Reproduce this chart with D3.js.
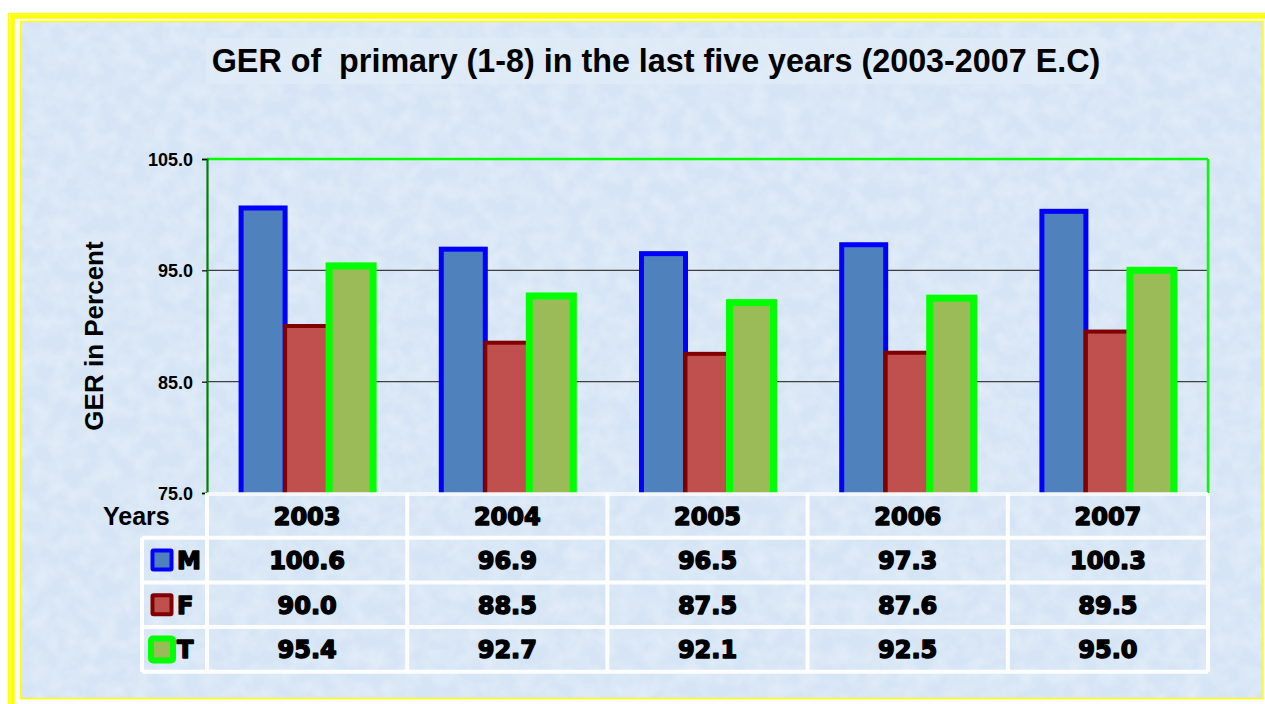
<!DOCTYPE html>
<html>
<head>
<meta charset="utf-8">
<script src="https://cdn.jsdelivr.net/npm/d3@7/dist/d3.min.js"></script>
<style>
  html, body { margin: 0; padding: 0; background: #ffffff; }
  svg { display: block; }
</style>
</head>
<body>
<svg id="chart" width="1265" height="704"></svg>
<script>
// ---- data ----
const years = ["2003", "2004", "2005", "2006", "2007"];
const seriesNames = ["M", "F", "T"];
const valuesM = [100.6, 96.9, 96.5, 97.3, 100.3];
const valuesF = [90.0, 88.5, 87.5, 87.6, 89.5];
const valuesT = [95.4, 92.7, 92.1, 92.5, 95.0];
const yTicks = [75, 85, 95, 105];
const titleText = "GER of  primary (1-8) in the last five years (2003-2007 E.C)";
const yTitle = "GER in Percent";
const xTitle = "Years";

// ---- styles ----
const fills = { M: "#4f81bd", F: "#c0504d", T: "#9bbb59" };
const strokes = { M: "#0000ff", F: "#800000", T: "#00ff00" };
const strokeW = { M: 5, F: 4, T: 7 };
const seriesValues = { M: valuesM, F: valuesF, T: valuesT };

const svg = d3.select("#chart");
const defs = svg.append("defs");
const filt = defs.append("filter").attr("id", "tex").attr("x", 0).attr("y", 0).attr("width", 1).attr("height", 1);
filt.append("feTurbulence").attr("type", "fractalNoise").attr("baseFrequency", 0.06).attr("numOctaves", 3).attr("seed", 7).attr("result", "n");
filt.append("feColorMatrix").attr("in", "n").attr("type", "matrix")
  .attr("values", "0 0 0 0 1  0 0 0 0 1  0 0 0 0 1  1.4 0 0 0 -0.5");

const plotL = 207, plotR = 1208, plotT = 159, plotB = 493;
defs.append("clipPath").attr("id", "plotClip").append("rect")
  .attr("x", plotL - 10).attr("y", plotT - 20).attr("width", plotR - plotL + 20).attr("height", plotB - plotT + 20);

// ---- background & frame ----
svg.append("rect").attr("x", 21).attr("y", 22).attr("width", 1242).attr("height", 676).attr("fill", "#d6e5f5");
svg.append("rect").attr("x", 21).attr("y", 22).attr("width", 1242).attr("height", 676).attr("filter", "url(#tex)").attr("opacity", 0.4);
svg.append("rect").attr("x", 8.5).attr("y", 13.5).attr("width", 1300).attr("height", 720).attr("fill", "none").attr("stroke", "#ffff00").attr("stroke-width", 1.2);
svg.append("rect").attr("x", 12.5).attr("y", 16.5).attr("width", 1300).attr("height", 720).attr("fill", "none").attr("stroke", "#ffff00").attr("stroke-width", 4.5);
svg.append("rect").attr("x", 20.5).attr("y", 21.5).attr("width", 1242.5).attr("height", 677).attr("fill", "none").attr("stroke", "#ffff00").attr("stroke-width", 1.5);

// ---- title ----
svg.append("rect").attr("x", 206).attr("y", 38).attr("width", 900).attr("height", 46).attr("fill", "#e2edf9").attr("opacity", 0.6);
svg.append("text").attr("x", 656).attr("y", 72).attr("text-anchor", "middle")
  .attr("xml:space", "preserve").style("white-space", "pre")
  .attr("font-family", "'Liberation Sans', Arial, sans-serif").attr("font-weight", "bold").attr("font-size", 32.3)
  .attr("fill", "#000").text(titleText);

// ---- scales ----
const x = d3.scaleBand().domain(years).range([plotL, plotR]).paddingInner(0).paddingOuter(0);
const xs = d3.scaleBand().domain(seriesNames).range([-66, 66]);
const y = d3.scaleLinear().domain([75, 105]).range([plotB, plotT]);

// gridlines
svg.append("g").selectAll("line").data(yTicks.filter(t => t > 75 && t < 105)).join("line")
  .attr("x1", plotL).attr("x2", plotR).attr("y1", d => y(d)).attr("y2", d => y(d))
  .attr("stroke", "#404040").attr("stroke-width", 1.2);

// bars
const barsG = svg.append("g").attr("clip-path", "url(#plotClip)");
seriesNames.forEach(s => {
  barsG.append("g").selectAll("rect").data(years.map((yr, i) => ({ yr, v: seriesValues[s][i] }))).join("rect")
    .attr("x", d => x(d.yr) + x.bandwidth() / 2 + xs(s))
    .attr("width", xs.bandwidth())
    .attr("y", d => y(d.v))
    .attr("height", d => plotB + 8 - y(d.v))
    .attr("fill", fills[s]).attr("stroke", strokes[s]).attr("stroke-width", strokeW[s]);
});

// plot frame (top/right bright green, left darker)
svg.append("line").attr("x1", plotL).attr("x2", plotR).attr("y1", plotT).attr("y2", plotT).attr("stroke", "#00ff00").attr("stroke-width", 2.5);
svg.append("line").attr("x1", plotR).attr("x2", plotR).attr("y1", plotT).attr("y2", plotB).attr("stroke", "#00ff00").attr("stroke-width", 2.5);

// y axis
const yAxis = d3.axisLeft(y).tickValues(yTicks).tickFormat(d3.format(".1f")).tickSize(5).tickPadding(9);
const ya = svg.append("g").attr("transform", `translate(${plotL},0)`).call(yAxis);
ya.select(".domain").attr("stroke", "#008000").attr("stroke-width", 2.2);
ya.selectAll(".tick line").attr("stroke", "#000").attr("stroke-width", 1.2);
ya.selectAll(".tick text").attr("font-family", "'Liberation Sans', Arial, sans-serif").attr("font-weight", "bold")
  .attr("font-size", 18).attr("fill", "#000").attr("dy", "0.36em");

// y title
svg.append("text").attr("transform", "translate(103,336) rotate(-90)").attr("text-anchor", "middle")
  .attr("font-family", "'Liberation Sans', Arial, sans-serif").attr("font-weight", "bold").attr("font-size", 26)
  .attr("fill", "#000").text(yTitle);

// ---- data table ----
const rowH = 44.7;
const tableTop = plotB;
const legendL = 142;
const tbl = svg.append("g");
const lineStyle = sel => sel.attr("stroke", "#ffffff").attr("stroke-width", 4).attr("opacity", 0.95);

tbl.append("line").attr("x1", plotL).attr("x2", plotR).attr("y1", tableTop + 1).attr("y2", tableTop + 1).call(lineStyle).attr("opacity", 0.7);
[1, 2, 3, 4].forEach(r => {
  tbl.append("line").attr("x1", legendL).attr("x2", plotR)
    .attr("y1", tableTop + r * rowH).attr("y2", tableTop + r * rowH).call(lineStyle);
});
years.forEach(yr => {
  tbl.append("line").attr("x1", x(yr)).attr("x2", x(yr)).attr("y1", tableTop).attr("y2", tableTop + 4 * rowH).call(lineStyle);
});
tbl.append("line").attr("x1", plotR).attr("x2", plotR).attr("y1", tableTop).attr("y2", tableTop + 4 * rowH).call(lineStyle);
tbl.append("line").attr("x1", legendL).attr("x2", legendL).attr("y1", tableTop + rowH).attr("y2", tableTop + 4 * rowH).call(lineStyle);

const cellFont = sel => sel.attr("font-family", "'DejaVu Sans', sans-serif").attr("font-weight", "bold")
  .attr("font-size", 24).attr("fill", "#000").attr("stroke", "#000").attr("stroke-width", 1.5)
  .attr("stroke-linejoin", "round");

tbl.append("g").selectAll("text").data(years).join("text")
  .attr("x", d => x(d) + x.bandwidth() / 2).attr("y", tableTop + rowH / 2 + 10)
  .attr("text-anchor", "middle").call(cellFont).text(d => d);

svg.append("text").attr("x", 103).attr("y", 525)
  .attr("font-family", "'Liberation Sans', Arial, sans-serif").attr("font-weight", "bold").attr("font-size", 25)
  .attr("fill", "#000").text(xTitle);

seriesNames.forEach((s, r) => {
  const cy = tableTop + (r + 1) * rowH + rowH / 2;
  const sw = s === "T" ? 22 : 19;
  tbl.append("rect").attr("x", 162 - sw / 2).attr("y", cy - sw / 2).attr("width", sw).attr("height", sw)
    .attr("rx", s === "T" ? 2 : 1)
    .attr("fill", fills[s]).attr("stroke", strokes[s]).attr("stroke-width", s === "T" ? 6 : 4);
  tbl.append("text").attr("x", 177).attr("y", cy + 9).call(cellFont).text(s);
  tbl.append("g").selectAll("text").data(seriesValues[s]).join("text")
    .attr("x", (d, i) => x(years[i]) + x.bandwidth() / 2).attr("y", cy + 9)
    .attr("text-anchor", "middle").call(cellFont).text(d => d3.format(".1f")(d));
});
</script>
</body>
</html>
